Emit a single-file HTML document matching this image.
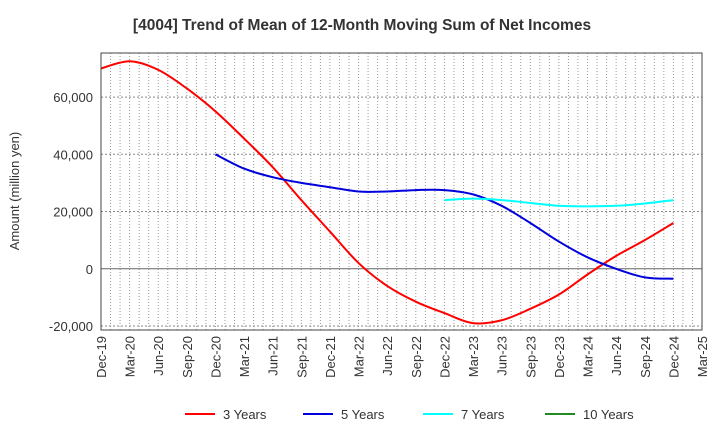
<!DOCTYPE html>
<html><head><meta charset="utf-8"><style>
body{margin:0;background:#fff;font-family:"Liberation Sans",sans-serif}
</style></head><body>
<svg id="c" width="720" height="440" xmlns="http://www.w3.org/2000/svg" font-family="Liberation Sans, sans-serif">
<text x="362" y="30" text-anchor="middle" font-size="15.5" font-weight="bold" fill="#333">[4004]  Trend of Mean of 12-Month Moving Sum of Net Incomes</text>
<text transform="translate(19,191) rotate(-90)" text-anchor="middle" font-size="13" fill="#333">Amount (million yen)</text>
<g id="grid"></g><g id="series"></g><g id="axes"></g><g id="legend"></g>
</svg>
<script>
const xLabels=["Dec-19","Mar-20","Jun-20","Sep-20","Dec-20","Mar-21","Jun-21","Sep-21","Dec-21","Mar-22","Jun-22","Sep-22","Dec-22","Mar-23","Jun-23","Sep-23","Dec-23","Mar-24","Jun-24","Sep-24","Dec-24","Mar-25"];
const yTicks=[-20000,0,20000,40000,60000];
const s3=[70000,72500,69500,63000,55000,45500,35500,24000,13000,2000,-6000,-11500,-15500,-19000,-18000,-14000,-9000,-2000,4500,10000,16000];
const s5=[null,null,null,null,40000,35000,32000,30000,28500,27000,27000,27500,27500,26000,22000,16000,9500,4000,0,-3000,-3500];
const s7=[null,null,null,null,null,null,null,null,null,null,null,null,24000,24500,24000,23000,22000,21800,22000,22800,24000];
const s10=[];
const L=101,R=702,T=53,B=330,yMin=-21400,yMax=75400;
const xS=i=>L+i*(R-L)/(xLabels.length-1);
const yS=v=>B-(v-yMin)/(yMax-yMin)*(B-T);
const NS="http://www.w3.org/2000/svg";
function mk(t,a,p){const e=document.createElementNS(NS,t);for(const k in a)e.setAttribute(k,a[k]);p.appendChild(e);return e;}
const g=document.getElementById('grid');
for(let m=1;m<63;m++){const x=L+m*(R-L)/63;const l=mk('line',{x1:x,x2:x,y1:T,y2:B,stroke:'#999','stroke-dasharray':'1,2','stroke-width':1},g);

}
const ax=document.getElementById('axes');
yTicks.forEach(v=>{const y=yS(v);const l=mk('line',{x1:L,x2:R,y1:y,y2:y,stroke:v===0?'#666':'#888','stroke-dasharray':v===0?'':'2,2'},g);


const t=mk('text',{x:L-8,y:y+5,'text-anchor':'end','font-size':13,fill:'#333'},ax);t.textContent=v.toLocaleString('en-US');

});
const fr=mk('rect',{x:L,y:T,width:R-L,height:B-T,fill:'none',stroke:'#444','stroke-width':1},ax);


xLabels.forEach((s,i)=>{const x=xS(i);const t=mk('text',{transform:`translate(${x+5},${B+6}) rotate(-90)`,'text-anchor':'end','font-size':13,fill:'#333'},ax);t.textContent=s;

});
function path(arr){const p=[];arr.forEach((v,i)=>{if(v!==null&&v!==undefined)p.push([xS(i),yS(v)]);});if(p.length<2)return'';
let d=`M${p[0][0]},${p[0][1]}`;for(let i=0;i<p.length-1;i++){const p0=p[Math.max(i-1,0)],p1=p[i],p2=p[i+1],p3=p[Math.min(i+2,p.length-1)];
d+=` C${p1[0]+(p2[0]-p0[0])/6},${p1[1]+(p2[1]-p0[1])/6} ${p2[0]-(p3[0]-p1[0])/6},${p2[1]-(p3[1]-p1[1])/6} ${p2[0]},${p2[1]}`;}return d;}
const sg=document.getElementById('series');
[[s3,'#ff0000','line-3-years'],[s5,'#0000dd','line-5-years'],[s7,'#00ffff','line-7-years'],[s10,'#228b22','line-10-years']].forEach(([a,c,n])=>{const d=path(a);if(!d)return;
const e=mk('path',{d:d,fill:'none',stroke:c,'stroke-width':2},sg);

});
const lg=document.getElementById('legend');
[['3 Years','#ff0000',185],['5 Years','#0000dd',303],['7 Years','#00ffff',423],['10 Years','#228b22',545]].forEach(([s,c,x])=>{
const l=mk('line',{x1:x,x2:x+30,y1:414,y2:414,stroke:c,'stroke-width':2},lg);


const t=mk('text',{x:x+38,y:419,'font-size':13,fill:'#333'},lg);t.textContent=s;

});
</script>
</body></html>
